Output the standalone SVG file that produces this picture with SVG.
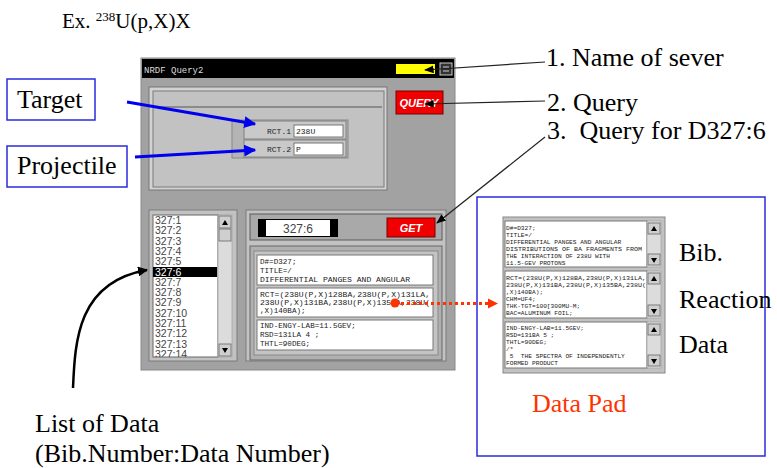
<svg xmlns="http://www.w3.org/2000/svg" width="777" height="468" viewBox="0 0 777 468">
<style>
.mono{fill:#222}
.list{font-size:10.5px;fill:#444}
.btn{font-weight:bold;font-style:italic;fill:#fff;text-anchor:middle}
.panel{fill:#c2c2c2;stroke:#7a7a7a;stroke-width:1}
.sunk{fill:#a9a9a9;stroke:#5a5a5a;stroke-width:1}
.white{fill:#fff;stroke:#777;stroke-width:1}
.sbtn{fill:#cfcfcf;stroke:#666;stroke-width:0.8}
.track{fill:#dcdcdc;stroke:#999;stroke-width:0.6}
.red{fill:#f00000;stroke:#700;stroke-width:1}
.blue{fill:none;stroke:#0000ee;stroke-width:3}
.blk{fill:none;stroke:#222;stroke-width:1.2}
.box{fill:#fff;stroke:#2a2ae0;stroke-width:1.5}
</style>
<defs>
<marker id="ab" viewBox="0 0 10 10" refX="9" refY="5" markerWidth="4" markerHeight="4" orient="auto"><path d="M0,0L10,5L0,10z" fill="#0000ee"/></marker>
<marker id="ak" viewBox="0 0 10 10" refX="9" refY="5" markerWidth="8" markerHeight="8" orient="auto"><path d="M0,1L10,5L0,9z" fill="#000"/></marker>
<marker id="ak2" viewBox="0 0 10 10" refX="9" refY="5" markerWidth="4" markerHeight="4" orient="auto"><path d="M0,0L10,5L0,10z" fill="#000"/></marker>
<marker id="ar" viewBox="0 0 10 10" refX="9" refY="5" markerWidth="3.5" markerHeight="3.5" orient="auto"><path d="M0,0L10,5L0,10z" fill="#ff3300"/></marker>
<clipPath id="clist"><rect x="153" y="215" width="65" height="142"/></clipPath>
</defs>

<g id="title">
<text x="62" y="28" font-family="Liberation Serif,serif" font-size="21" fill="#000">Ex. <tspan font-size="13" dy="-7">238</tspan><tspan dy="7">U(p,X)X</tspan></text>
</g>

<g id="window">
<rect x="141" y="58" width="314" height="312" fill="#a2a2a2" stroke="#888" stroke-width="1"/>
<rect x="142" y="59" width="312" height="19" fill="#000"/>
<text class="mono" font-family="Liberation Mono,monospace" x="144" y="73" font-size="9" style="fill:#ddd">NRDF Query2</text>
<rect x="396" y="64" width="39" height="10" fill="#ffff00"/>
<rect x="440" y="63" width="12" height="12" fill="#333" stroke="#ccc" stroke-width="1"/>
<line x1="443" y1="67" x2="449" y2="67" stroke="#ccc"/>
<line x1="443" y1="71" x2="449" y2="71" stroke="#ccc"/>

<rect x="149" y="87" width="238" height="103" fill="#d2d2d2" stroke="#777"/>
<rect x="153" y="91" width="231" height="96" class="panel"/>
<line x1="157" y1="107" x2="382" y2="107" stroke="#555" stroke-width="1"/>

<g id="rct" font-family="Liberation Mono,monospace">
<rect x="232" y="120" width="116" height="38" fill="#b4b4b4" stroke="#888"/>
<rect x="244" y="121" width="102" height="18" fill="#c9c9c9" stroke="#808080"/>
<rect x="244" y="140" width="102" height="17" fill="#c9c9c9" stroke="#808080"/>
<rect x="294" y="125" width="49" height="12" class="white"/>
<rect x="294" y="143" width="49" height="12" class="white"/>
<text class="mono" x="291" y="134" font-size="8" text-anchor="end">RCT.1</text>
<text class="mono" x="291" y="152" font-size="8" text-anchor="end">RCT.2</text>
<text class="mono" x="296" y="134" font-size="8">238U</text>
<text class="mono" x="296" y="152" font-size="8">P</text>
</g>

<g id="query-btn" font-family="Liberation Sans,sans-serif">
<rect x="396" y="91" width="47" height="23" class="red"/>
<text class="btn" x="419" y="107" font-size="11">QUERY</text>
</g>

<g id="list" font-family="Liberation Sans,sans-serif">
<rect x="149" y="210" width="88" height="151" class="panel"/>
<rect x="153" y="215" width="65" height="142" fill="#fff" stroke="#666"/>
<rect x="218" y="215" width="14" height="142" class="track"/>
<rect x="219" y="216" width="12" height="12" class="sbtn"/>
<path d="M222,225L225,220L228,225z" fill="#000"/>
<rect x="219" y="229" width="12" height="12" class="sbtn"/>
<rect x="219" y="344" width="12" height="12" class="sbtn"/>
<path d="M222,348L225,353L228,348z" fill="#000"/>
<rect x="153" y="267" width="64" height="10" fill="#000"/>
<g clip-path="url(#clist)">
<text class="list" x="155" y="224">327:1</text>
<text class="list" x="155" y="234.3">327:2</text>
<text class="list" x="155" y="244.6">327:3</text>
<text class="list" x="155" y="254.9">327:4</text>
<text class="list" x="155" y="265.2">327:5</text>
<text class="list" x="155" y="275.5" style="fill:#fff">327:6</text>
<text class="list" x="155" y="285.8">327:7</text>
<text class="list" x="155" y="296.1">327:8</text>
<text class="list" x="155" y="306.4">327:9</text>
<text class="list" x="155" y="316.7">327:10</text>
<text class="list" x="155" y="327">327:11</text>
<text class="list" x="155" y="337.3">327:12</text>
<text class="list" x="155" y="347.6">327:13</text>
<text class="list" x="155" y="357.9">327:14</text>
</g>
</g>

<g id="data-view">
<rect x="246" y="210" width="200" height="151" class="panel"/>
<rect x="250" y="214" width="192" height="26" class="sunk"/>
<rect x="258" y="219" width="80" height="18" fill="#000"/>
<rect x="266" y="220" width="64" height="16" fill="#fff"/>
<text x="298" y="233" font-family="Liberation Sans,sans-serif" font-size="12" fill="#444" text-anchor="middle">327:6</text>
<rect x="387" y="218" width="48" height="19" class="red"/>
<text class="btn" font-family="Liberation Sans,sans-serif" x="411" y="232" font-size="11">GET</text>
<rect x="250" y="246" width="192" height="114" fill="#b0b0b0" stroke="#666"/>
<rect x="254" y="251" width="184" height="104" fill="#c4c4c4" stroke="#888"/>
<rect x="257" y="255" width="176" height="30" class="white"/>
<rect x="257" y="288" width="176" height="29" class="white"/>
<rect x="257" y="320" width="176" height="30" class="white"/>
<g class="mono" font-family="Liberation Mono,monospace" font-size="7.6">
<text x="260" y="264">D#=D327;</text>
<text x="260" y="273">TITLE=/</text>
<text x="260" y="282" textLength="150" lengthAdjust="spacingAndGlyphs">DIFFERENTIAL PANGES AND ANGULAR</text>
<text x="260" y="297" textLength="170" lengthAdjust="spacingAndGlyphs">RCT=(238U(P,X)128BA,238U(P,X)131LA,</text>
<text x="260" y="305" textLength="170" lengthAdjust="spacingAndGlyphs">238U(P,X)131BA,238U(P,X)135BA,238U(</text>
<text x="260" y="313">,X)140BA);</text>
<text x="260" y="328">IND-ENGY-LAB=11.5GEV;</text>
<text x="260" y="337">RSD=131LA 4 ;</text>
<text x="260" y="346">THTL=90DEG;</text>
</g>
</g>
</g>

<g id="datapad">
<rect x="477" y="197" width="288" height="259" class="box"/>
<rect x="503" y="217" width="162" height="156" fill="#c2c2c2" stroke="#888"/>
<rect x="505" y="221" width="142" height="46" class="white"/>
<rect x="505" y="271" width="142" height="47" class="white"/>
<rect x="505" y="322" width="142" height="46" class="white"/>
<rect x="647" y="221" width="14" height="46" class="track"/>
<rect x="647" y="271" width="14" height="47" class="track"/>
<rect x="647" y="322" width="14" height="46" class="track"/>
<rect x="648" y="223" width="12" height="11" class="sbtn"/><path d="M651,231L654,226L657,231z" fill="#000"/>
<rect x="648" y="254" width="12" height="11" class="sbtn"/><path d="M651,258L654,263L657,258z" fill="#000"/>
<rect x="648" y="273" width="12" height="11" class="sbtn"/><path d="M651,281L654,276L657,281z" fill="#000"/>
<rect x="648" y="305" width="12" height="11" class="sbtn"/><path d="M651,309L654,314L657,309z" fill="#000"/>
<rect x="648" y="324" width="12" height="11" class="sbtn"/><path d="M651,332L654,327L657,332z" fill="#000"/>
<rect x="648" y="355" width="12" height="11" class="sbtn"/><path d="M651,359L654,364L657,359z" fill="#000"/>
<g class="mono" font-family="Liberation Mono,monospace" font-size="6.2">
<text x="506" y="229.5">D#=D327;</text>
<text x="506" y="236.5">TITLE=/</text>
<text x="506" y="243.5">DIFFERENTIAL PANGES AND ANGULAR</text>
<text x="506" y="250.5" textLength="136" lengthAdjust="spacingAndGlyphs">DISTRIBUTIONS OF BA FRAGMENTS FROM</text>
<text x="506" y="257.5">THE INTERACTION OF 238U WITH</text>
<text x="506" y="264.5">11.5-GEV PROTONS</text>
<text x="506" y="279.5" textLength="140" lengthAdjust="spacingAndGlyphs">RCT=(238U(P,X)128BA,238U(P,X)131LA,</text>
<text x="506" y="286.5" textLength="140" lengthAdjust="spacingAndGlyphs">238U(P,X)131BA,238U(P,X)135BA,238U(</text>
<text x="506" y="293.5">,X)140BA);</text>
<text x="506" y="300.5">CHM=UF4;</text>
<text x="506" y="307.5">THK-TGT=100[300MU-M;</text>
<text x="506" y="314.5">BAC=ALUMINUM FOIL;</text>
<text x="506" y="329.5">IND-ENGY-LAB=11.5GEV;</text>
<text x="506" y="336.5">RSD=131BA 5 ;</text>
<text x="506" y="343.5">THTL=90DEG;</text>
<text x="506" y="350.5">/*</text>
<text x="506" y="357.5" xml:space="preserve"> 5  THE SPECTRA OF INDEPENDENTLY</text>
<text x="506" y="364.5">FORMED PRODUCT</text>
</g>
<text font-family="Liberation Serif,serif" font-size="26" fill="#000" x="679" y="261">Bib.</text>
<text font-family="Liberation Serif,serif" font-size="26" fill="#000" x="679" y="308">Reaction</text>
<text font-family="Liberation Serif,serif" font-size="26" fill="#000" x="679" y="353">Data</text>
<text font-family="Liberation Serif,serif" font-size="26" fill="#ff3300" x="532" y="412">Data Pad</text>
</g>

<g id="target-label">
<rect x="7" y="79" width="88" height="41" fill="#fff" stroke="#2a2ae0" stroke-width="1.5"/>
<text font-family="Liberation Serif,serif" font-size="26" fill="#000" x="17" y="108">Target</text>
</g>
<g id="projectile-label">
<rect x="7" y="146" width="120" height="41" fill="#fff" stroke="#2a2ae0" stroke-width="1.5"/>
<text font-family="Liberation Serif,serif" font-size="26" fill="#000" x="17" y="174">Projectile</text>
</g>
<g id="label1"><text font-family="Liberation Serif,serif" font-size="26" fill="#000" x="546" y="66">1. Name of sever</text></g>
<g id="label2"><text font-family="Liberation Serif,serif" font-size="26" fill="#000" x="547" y="111">2. Query</text></g>
<g id="label3"><text font-family="Liberation Serif,serif" font-size="26" fill="#000" x="547" y="139" xml:space="preserve">3.  Query for D327:6</text></g>
<g id="list-label">
<text font-family="Liberation Serif,serif" font-size="26" fill="#000" x="35" y="432">List of Data</text>
<text font-family="Liberation Serif,serif" font-size="26" fill="#000" x="35" y="462">(Bib.Number:Data Number)</text>
</g>

<g id="connectors">
<line class="blue" x1="127" y1="102" x2="255" y2="124" marker-end="url(#ab)"/>
<line class="blue" x1="135" y1="157" x2="255" y2="150" marker-end="url(#ab)"/>
<line class="blk" x1="545" y1="62" x2="425" y2="70" marker-end="url(#ak)"/>
<line class="blk" x1="545" y1="101" x2="425" y2="104" marker-end="url(#ak)"/>
<line class="blk" x1="545" y1="137" x2="437" y2="223" marker-end="url(#ak)"/>
<path d="M73,388C75,340 78,282 147,270" fill="none" stroke="#000" stroke-width="2.5" marker-end="url(#ak2)"/>
<circle cx="395" cy="303" r="4.5" fill="#ff3300"/>
<line x1="395" y1="303.5" x2="497" y2="303.5" stroke="#ff3300" stroke-width="3" stroke-dasharray="3 3" marker-end="url(#ar)"/>
</g>
</svg>
